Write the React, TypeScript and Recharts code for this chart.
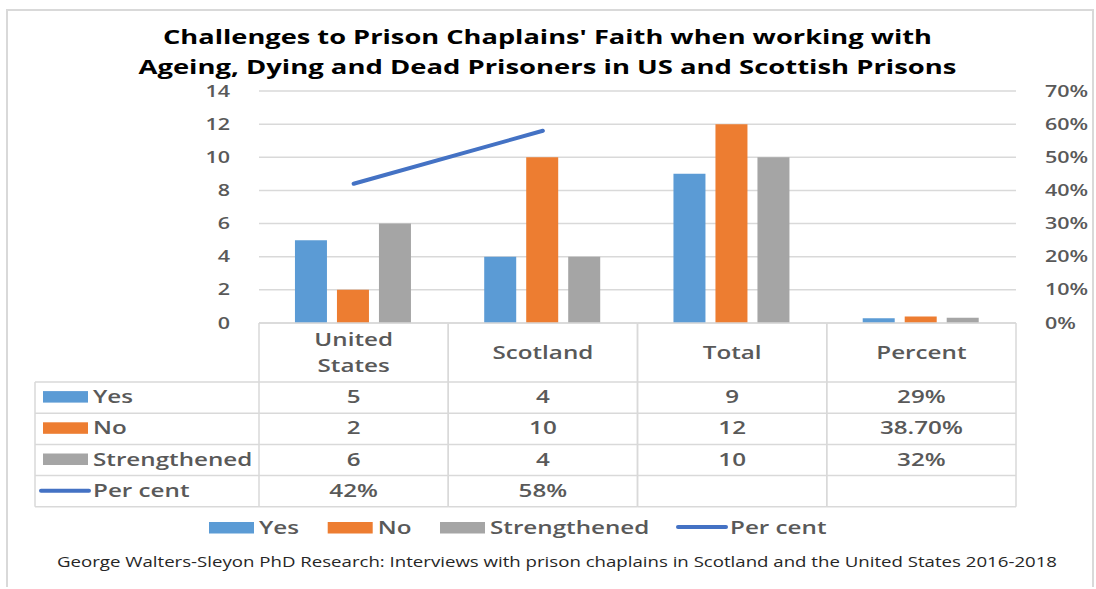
import React from "react";
import {
  ComposedChart,
  Bar,
  Line,
  XAxis,
  YAxis,
  CartesianGrid,
  Legend,
  Customized,
} from "recharts";

// ---------- data ----------
const categories = ["United States", "Scotland", "Total", "Percent"];
const yesValues = [5, 4, 9, 0.29];
const noValues = [2, 10, 12, 0.387];
const strengthenedValues = [6, 4, 10, 0.32];
const perCentValues: (number | null)[] = [0.42, 0.58, null, null];

const yesLabels = ["5", "4", "9", "29%"];
const noLabels = ["2", "10", "12", "38.70%"];
const strengthenedLabels = ["6", "4", "10", "32%"];
const perCentLabels = ["42%", "58%", "", ""];

const leftTicks = [0, 2, 4, 6, 8, 10, 12, 14];
const rightTicks = [0, 0.1, 0.2, 0.3, 0.4, 0.5, 0.6, 0.7];

const titleLines = [
  "Challenges to Prison Chaplains' Faith when working with",
  "Ageing, Dying and Dead Prisoners in US and Scottish Prisons",
];
const footerText =
  "George Walters-Sleyon PhD Research: Interviews with prison chaplains in Scotland and the United States 2016-2018";

const series = [
  { key: "yes", name: "Yes", color: "#5B9BD5", type: "bar", labels: yesLabels },
  { key: "no", name: "No", color: "#ED7D31", type: "bar", labels: noLabels },
  { key: "strengthened", name: "Strengthened", color: "#A5A5A5", type: "bar", labels: strengthenedLabels },
  { key: "pct", name: "Per cent", color: "#4472C4", type: "line", labels: perCentLabels },
];

const data = categories.map((c, i) => ({
  category: c,
  yes: yesValues[i],
  no: noValues[i],
  strengthened: strengthenedValues[i],
  pct: perCentValues[i],
}));

// ---------- layout ----------
const W = 1084;
const H = 576;
const PLOT_LEFT = 251;
const PLOT_RIGHT = 1008;
const PLOT_TOP = 80;
const PLOT_BOTTOM = 312;
const BAND = (PLOT_RIGHT - PLOT_LEFT) / categories.length;
const TABLE_LEFT = 27;
const HEADER_BOTTOM = 371;
const ROW_H = 31.2;
const SX = 1.345;
const FONT = "'Open Sans', 'DejaVu Sans', sans-serif";
const GRAY_TEXT = "#595959";
const LINE_COLOR = "#d9d9d9";

const ST = ({ x, y, anchor = "start", size = 18, weight = 600, fill = GRAY_TEXT, children }: any) => (
  <text
    transform={`translate(${x},${y}) scale(${SX},1)`}
    textAnchor={anchor}
    fontSize={size}
    fontWeight={weight}
    fill={fill}
    fontFamily={FONT}
  >
    {children}
  </text>
);

const wrapLabel = (s: string) => (s.length > 9 ? s.split(" ") : [s]);

const LeftTick = ({ x, y, payload }: any) => (
  <ST x={x - 27} y={y + 5.5} anchor="end" size={16}>
    {payload.value}
  </ST>
);

const RightTick = ({ x, y, payload }: any) => (
  <ST x={x + 27} y={y + 5.5} anchor="start" size={16}>
    {`${Math.round(payload.value * 100)}%`}
  </ST>
);

const TableTick = ({ x, payload, index }: any) => {
  const i = payload?.index ?? index;
  const l = x - BAND / 2;
  const r = x + BAND / 2;
  const rowsBottom = HEADER_BOTTOM + ROW_H * series.length;
  const lines = wrapLabel(categories[i]);
  const hc = (PLOT_BOTTOM + HEADER_BOTTOM) / 2 + 6.5;
  const els: any[] = [];
  els.push(<line key="vl" x1={l} x2={l} y1={PLOT_BOTTOM} y2={rowsBottom} stroke={LINE_COLOR} strokeWidth={1.5} />);
  els.push(<line key="vr" x1={r} x2={r} y1={PLOT_BOTTOM} y2={rowsBottom} stroke={LINE_COLOR} strokeWidth={1.5} />);
  els.push(<line key="ht" x1={l} x2={r} y1={PLOT_BOTTOM} y2={PLOT_BOTTOM} stroke={LINE_COLOR} strokeWidth={1.5} />);
  for (let k = 0; k <= series.length; k++) {
    const yy = HEADER_BOTTOM + ROW_H * k;
    els.push(<line key={"h" + k} x1={l} x2={r} y1={yy} y2={yy} stroke={LINE_COLOR} strokeWidth={1.5} />);
  }
  lines.forEach((t, k) => {
    const yy = hc + (k - (lines.length - 1) / 2) * 26;
    els.push(
      <ST key={"hd" + k} x={x} y={yy} anchor="middle">
        {t}
      </ST>
    );
  });
  series.forEach((s, k) => {
    const cy = HEADER_BOTTOM + ROW_H * k + ROW_H / 2;
    els.push(
      <ST key={"v" + k} x={x} y={cy + 5.5} anchor="middle">
        {s.labels[i]}
      </ST>
    );
  });
  if (i === 0) {
    els.push(<line key="lv" x1={TABLE_LEFT} x2={TABLE_LEFT} y1={HEADER_BOTTOM} y2={rowsBottom} stroke={LINE_COLOR} strokeWidth={1.5} />);
    for (let k = 0; k <= series.length; k++) {
      const yy = HEADER_BOTTOM + ROW_H * k;
      els.push(<line key={"lh" + k} x1={TABLE_LEFT} x2={l} y1={yy} y2={yy} stroke={LINE_COLOR} strokeWidth={1.5} />);
    }
    series.forEach((s, k) => {
      const cy = HEADER_BOTTOM + ROW_H * k + ROW_H / 2;
      if (s.type === "bar") {
        els.push(<rect key={"lk" + k} x={TABLE_LEFT + 8} y={cy - 6.5} width={45} height={11.5} fill={s.color} />);
      } else {
        els.push(
          <line key={"lk" + k} x1={TABLE_LEFT + 6} x2={TABLE_LEFT + 54} y1={cy - 0.5} y2={cy - 0.5} stroke={s.color} strokeWidth={4} strokeLinecap="round" />
        );
      }
      els.push(
        <ST key={"ll" + k} x={TABLE_LEFT + 58} y={cy + 5.5} anchor="start">
          {s.name}
        </ST>
      );
    });
  }
  return <g>{els}</g>;
};

const legendX = [201, 319.7, 432, 668];

const LegendContent = () => (
  <svg width={W} height={30} style={{ display: "block", overflow: "visible" }}>
    {series.map((s, k) => {
      const x0 = legendX[k];
      return (
        <g key={s.key}>
          {s.type === "bar" ? (
            <rect x={x0} y={1} width={45} height={11.5} fill={s.color} />
          ) : (
            <line x1={x0 + 2} x2={x0 + 50} y1={6} y2={6} stroke={s.color} strokeWidth={4} strokeLinecap="round" />
          )}
          <ST x={x0 + (s.type === "bar" ? 50 : 54)} y={12.5} anchor="start">
            {s.name}
          </ST>
        </g>
      );
    })}
  </svg>
);

const Decorations = () => (
  <g>
    {titleLines.map((t, k) => (
      <text
        key={k}
        x={539.5}
        y={33 + k * 30}
        textAnchor="middle"
        fontSize={19}
        fontWeight={700}
        fill="#000"
        fontFamily={FONT}
        textLength={k === 0 ? 769 : 818}
        lengthAdjust="spacingAndGlyphs"
      >
        {t}
      </text>
    ))}
    <text
      x={49}
      y={556}
      fontSize={15}
      fontWeight={400}
      fill="#262626"
      fontFamily={FONT}
      textLength={1000}
      lengthAdjust="spacingAndGlyphs"
    >
      {footerText}
    </text>
  </g>
);

export default function App() {
  return (
    <div
      style={{
        position: "absolute",
        left: 6,
        top: 9,
        width: W,
        height: H,
        borderLeft: "2px solid #d9d9d9",
        borderTop: "2px solid #d9d9d9",
        borderRight: "2px solid #d9d9d9",
        background: "#fff",
      }}
    >
      <ComposedChart
        width={W}
        height={H}
        data={data}
        margin={{ top: PLOT_TOP, right: 0, left: 0, bottom: 36 }}
        barCategoryGap="19%"
        barGap={10}
      >
        <CartesianGrid yAxisId="left" vertical={false} stroke={LINE_COLOR} strokeWidth={1.5} />
        <XAxis
          dataKey="category"
          height={198}
          interval={0}
          axisLine={false}
          tickLine={false}
          tickSize={0}
          tick={<TableTick />}
        />
        <YAxis
          yAxisId="left"
          width={PLOT_LEFT}
          domain={[0, 14]}
          ticks={leftTicks}
          axisLine={false}
          tickLine={false}
          tickSize={0}
          tick={<LeftTick />}
        />
        <YAxis
          yAxisId="right"
          orientation="right"
          width={W - PLOT_RIGHT}
          domain={[0, 0.7]}
          ticks={rightTicks}
          axisLine={false}
          tickLine={false}
          tickSize={0}
          tick={<RightTick />}
        />
        {series
          .filter((s) => s.type === "bar")
          .map((s) => (
            <Bar key={s.key} yAxisId="left" dataKey={s.key} name={s.name} fill={s.color} isAnimationActive={false} />
          ))}
        {series
          .filter((s) => s.type === "line")
          .map((s) => (
            <Line
              key={s.key}
              yAxisId="right"
              dataKey={s.key}
              name={s.name}
              stroke={s.color}
              strokeWidth={4}
              strokeLinecap="round"
              dot={false}
              activeDot={false}
              isAnimationActive={false}
            />
          ))}
        <Legend verticalAlign="bottom" height={30} width={W} content={<LegendContent />} />
        <Customized component={<Decorations />} />
      </ComposedChart>
    </div>
  );
}
